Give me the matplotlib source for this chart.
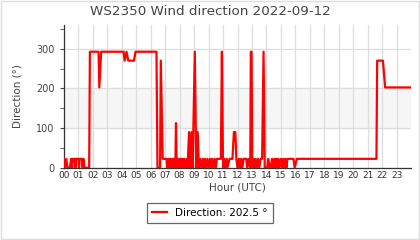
import matplotlib
matplotlib.use("Agg")
import matplotlib.pyplot as plt
from matplotlib.patches import Rectangle
from matplotlib.ticker import MultipleLocator

# Wind direction samples, hours (UTC) and degrees
hours = [0.00, 0.08, 0.17, 0.25, 0.42, 0.50, 0.58, 0.62, 0.75, 0.80, 0.85, 1.00,
         1.05, 1.10, 1.25, 1.30, 1.35, 1.42, 1.75, 1.80, 2.40, 2.45, 2.58, 4.13,
         4.20, 4.33, 4.45, 4.85, 4.95, 6.40, 6.47, 6.65, 6.70, 6.83, 7.10, 7.15,
         7.22, 7.28, 7.35, 7.42, 7.50, 7.55, 7.60, 7.70, 7.75, 7.80, 7.85, 7.92,
         8.00, 8.08, 8.13, 8.20, 8.27, 8.33, 8.40, 8.50, 8.55, 8.65, 8.72, 8.82,
         8.90, 9.05, 9.15, 9.25, 9.33, 9.42, 9.50, 9.60, 9.67, 9.75, 9.83, 9.92,
         10.00, 10.10, 10.17, 10.25, 10.33, 10.42, 10.50, 10.58, 10.85, 10.92,
         11.00, 11.08, 11.15, 11.25, 11.30, 11.45, 11.65, 11.75, 11.85, 11.92,
         12.00, 12.10, 12.17, 12.25, 12.33, 12.42, 12.60, 12.67, 12.75, 12.88,
         12.92, 12.97, 13.02, 13.10, 13.17, 13.25, 13.33, 13.42, 13.50, 13.60,
         13.70, 13.80, 13.88, 14.05, 14.13, 14.22, 14.30, 14.38, 14.46, 14.55,
         14.61, 14.68, 14.75, 14.82, 14.90, 15.00, 15.08, 15.16, 15.24, 15.30,
         15.38, 15.45, 15.87, 15.95, 16.10, 21.60, 21.65, 22.05, 22.20, 24.00]
direction = [22.5, 0, 22.5, 0, 0, 22.5, 0, 22.5, 22.5, 0, 22.5, 22.5,
             0, 22.5, 22.5, 0, 22.5, 0, 0, 292.5, 292.5, 202.5, 292.5, 292.5,
             270, 292.5, 270, 270, 292.5, 292.5, 0, 0, 270, 22.5, 22.5, 0,
             22.5, 0, 22.5, 0, 22.5, 0, 22.5, 0, 112.5, 0, 22.5, 0,
             22.5, 22.5, 0, 22.5, 0, 22.5, 0, 22.5, 0, 90, 0, 90,
             0, 292.5, 0, 90, 0, 22.5, 0, 22.5, 0, 22.5, 0, 22.5,
             0, 22.5, 0, 22.5, 0, 22.5, 0, 22.5, 22.5, 292.5,
             0, 22.5, 0, 22.5, 0, 22.5, 22.5, 90, 90, 22.5,
             0, 22.5, 0, 22.5, 0, 22.5, 22.5, 0, 22.5, 0,
             292.5, 292.5, 0, 22.5, 0, 22.5, 0, 22.5, 0, 22.5,
             22.5, 292.5, 0, 0, 22.5, 0, 0, 22.5, 0, 22.5,
             0, 22.5, 0, 22.5, 0, 22.5, 0, 22.5, 0, 22.5,
             0, 22.5, 22.5, 0, 22.5, 22.5, 270, 270, 202.5, 202.5]
current = 202.5
hour_labels = ["%02d" % h for h in range(24)]

txt = "#444444"
plt.rcParams["font.family"] = "DejaVu Sans"

fig = plt.figure(figsize=(4.2, 2.4), dpi=100)
ax = fig.add_axes([0.152, 0.301, 0.827, 0.595])

ax.axhspan(100, 200, color="#f6f6f6", zorder=0)
ax.plot(hours, direction, color="#ff0000", lw=1.6, zorder=3,
        label="Direction: %.1f °" % current)

ax.set_xlim(0, 24)
ax.set_ylim(0, 360)
ax.set_xticks(range(24))
ax.set_xticklabels(hour_labels)
ax.yaxis.set_major_locator(MultipleLocator(100))
ax.yaxis.set_minor_locator(MultipleLocator(50))
ax.grid(True, which="major", color="#dddddd", lw=0.9, zorder=1)
ax.set_axisbelow(True)

for s in ["top", "right"]:
    ax.spines[s].set_visible(False)
for s in ["left", "bottom"]:
    ax.spines[s].set_color("#333333")
    ax.spines[s].set_linewidth(0.9)

ax.tick_params(axis="x", length=0, pad=2, labelsize=6.5, colors=txt)
ax.tick_params(axis="y", which="major", length=3, labelsize=7, colors=txt)
ax.tick_params(axis="y", which="minor", length=3, colors=txt)
for lbl in ax.get_xticklabels():
    lbl.set_color("#333333")

fig.text(0.5, 0.953, "WS2350 Wind direction 2022-09-12", fontsize=9.7,
         color=txt, ha="center", va="center")
ax.set_xlabel("Hour (UTC)", fontsize=7.5, color=txt, labelpad=2)
ax.set_ylabel("Direction (°)", fontsize=7.5, color=txt, labelpad=10)

leg = fig.legend(loc="center", bbox_to_anchor=(0.5, 0.112), fontsize=7.5,
                 fancybox=False, edgecolor="#666666", handlelength=1.4,
                 borderpad=0.5, framealpha=1)
leg.get_frame().set_linewidth(0.9)

fig.patches.append(Rectangle((0.002, 0.004), 0.996, 0.992, transform=fig.transFigure,
                             fill=False, edgecolor="#dddddd", lw=1))

fig.savefig("out.png", dpi=100)
